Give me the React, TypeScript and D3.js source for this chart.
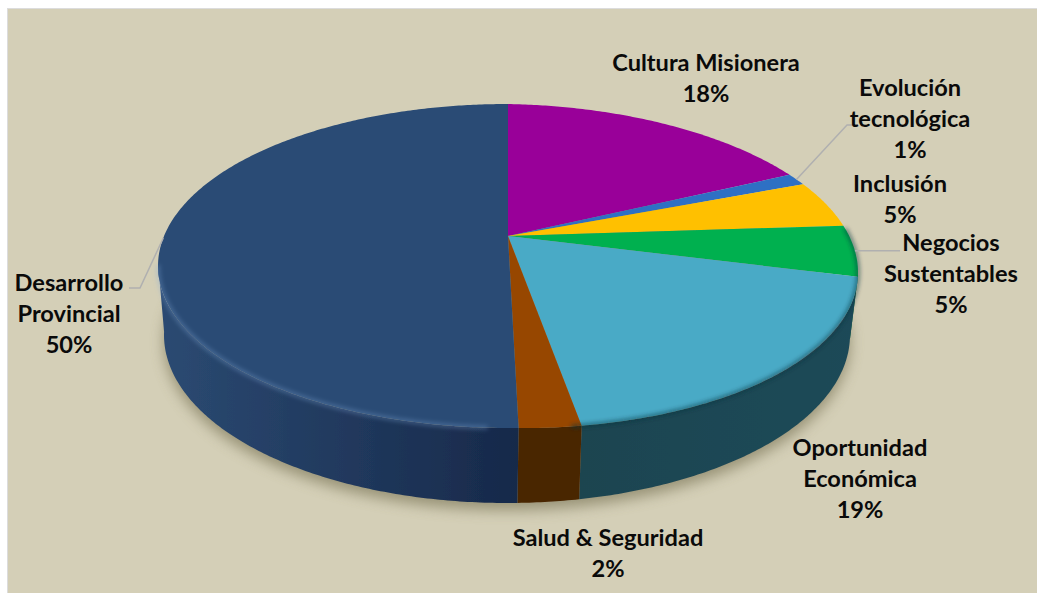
import React from 'react';
import * as d3 from 'd3';

const categories = ['Cultura Misionera', 'Evolución tecnológica', 'Inclusión', 'Negocios Sustentables', 'Oportunidad Económica', 'Salud & Seguridad', 'Desarrollo Provincial'];
const values = [17.4, 1.2, 4.7, 5.1, 18.8, 2.4, 50.4];
const percentLabels = ['18%', '1%', '5%', '5%', '19%', '2%', '50%'];
const faceColors = ['#990099', '#2f6fc4', '#ffc000', '#00b050', '#4aaac6', '#974706', '#2b4b75'];
const sideColors = [['#5c005c', '#5c005c'], ['#1c4376', '#1c4376'], ['#997300', '#997300'], ['#006a30', '#1a5a40'], ['#1e4a58', '#1f4450'], ['#4e2700', '#4a2500'], ['#2b4a72', '#17294a']];

// label placement: centre x, first baseline, lines
const labelLayout = [
  { x: 706, y: 71, lines: ['Cultura Misionera'] },
  { x: 910, y: 96, lines: ['Evolución', 'tecnológica'] },
  { x: 900, y: 192, lines: ['Inclusión'] },
  { x: 951, y: 251, lines: ['Negocios', 'Sustentables'] },
  { x: 860, y: 456, lines: ['Oportunidad', 'Económica'] },
  { x: 608, y: 546, lines: ['Salud & Seguridad'] },
  { x: 69, y: 291, lines: ['Desarrollo', 'Provincial'] },
];

const W = 1037;
const H = 593;
const top = { cx: 508, cy: 266, rx: 350, ry: 162 };
const bottom = { cx: 507, cy: 335, rx: 343, ry: 168 };
const apexShift = 30;
const rightSag = 0.018; // the right half of the disc hangs a little lower
const k = apexShift / top.ry;
const xScale = Math.sqrt(1 - k * k);
const TAU = Math.PI * 2;

const sag = (x: number) => Math.max(0, x - top.cx) * rightSag;

// pie angle -> point on the top face, with the perspective of the tilted disc
const rawProject = (a: number): [number, number] => {
  const Y = -Math.cos(a);
  const w = 1 - k * Y;
  return [top.cx + (top.rx * xScale * Math.sin(a)) / w, top.cy + (top.ry * Y - apexShift) / w];
};
const project = (a: number): [number, number] => {
  const [x, y] = rawProject(a);
  return [x, y + sag(x)];
};
const ellipseAngle = ([x, y]: [number, number]) => {
  const p = Math.atan2((x - top.cx) / top.rx, -(y - top.cy) / top.ry);
  return p < 0 ? p + TAU : p;
};
const lower = (p: number): [number, number] => [bottom.cx + bottom.rx * Math.sin(p), bottom.cy - bottom.ry * Math.cos(p)];
const upper = (p: number): [number, number] => {
  const x = top.cx + top.rx * Math.sin(p);
  return [x, top.cy - top.ry * Math.cos(p) + sag(x)];
};

const line = d3.line();
const arcs = d3.pie<number>().sort(null).startAngle(0).endAngle(TAU)(values);
const sampleAngles = (a0: number, a1: number) => {
  const n = Math.max(2, Math.ceil((a1 - a0) / 0.01));
  return d3.range(n + 1).map((i) => a0 + ((a1 - a0) * i) / n);
};
const apex: [number, number] = [top.cx, top.cy - apexShift];

const facePath = (a0: number, a1: number) => line([apex, ...sampleAngles(a0, a1).map(project)]) + 'Z';
const sidePath = (a0: number, a1: number) => {
  const ps = sampleAngles(a0, a1)
    .map((a) => ellipseAngle(rawProject(a)))
    .filter((p) => p >= Math.PI / 2 - 0.02 && p <= (3 * Math.PI) / 2 + 0.02);
  if (ps.length < 2) return null;
  return line([...ps.map(upper), ...ps.slice().reverse().map(lower)]) + 'Z';
};
const rimPath = (p0: number, p1: number) => line(sampleAngles(p0, p1).map(upper)) || '';
const silhouette = line(sampleAngles(0, TAU).map(lower)) + 'Z';

const fontFamily = 'Lato, "Open Sans", sans-serif';
const lineHeight = 31;

function leader(i: number) {
  const mid = project((arcs[i].startAngle + arcs[i].endAngle) / 2);
  if (i === 1) return line([mid, [847, 125], [858, 125]]);
  if (i === 3) return line([mid, [900, mid[1]]]);
  return line([mid, [140, 288], [129, 288]]);
}

export default function App() {
  return (
    <svg width={W} height={H} style={{ position: 'absolute', left: 0, top: 0, display: 'block' }}>
      <defs>
        <filter id="shadowBlur" x="-10%" y="-10%" width="120%" height="120%">
          <feGaussianBlur stdDeviation="7" />
        </filter>
        <filter id="rimBlur" x="-10%" y="-10%" width="120%" height="120%">
          <feGaussianBlur stdDeviation="2" />
        </filter>
        <filter id="soft" x="-5%" y="-5%" width="110%" height="110%">
          <feGaussianBlur stdDeviation="0.5" />
        </filter>
        {arcs.map((d, i) => (
          <linearGradient key={i} id={`side${i}`} gradientUnits="userSpaceOnUse"
            x1={i === 6 ? 160 : 857} x2={i === 6 ? 518 : 579} y1={0} y2={0}>
            <stop offset="0" stopColor={sideColors[i][0]} />
            <stop offset="1" stopColor={sideColors[i][1]} />
          </linearGradient>
        ))}
      </defs>

      <rect x={7} y={8} width={W - 7} height={H - 8} fill="#dcdcdc" />
      <rect x={8} y={9} width={W - 8} height={H - 9} fill="#d4cfb7" />

      <path d={silhouette} transform="translate(0,7)" fill="#6f6a4c" opacity={0.6} filter="url(#shadowBlur)" />

      <g filter="url(#soft)">
        {arcs.map((d, i) => {
          const p = sidePath(d.startAngle, d.endAngle);
          return p ? <path key={i} d={p} fill={`url(#side${i})`} /> : null;
        })}
        {arcs.map((d, i) => (
          <path key={i} d={facePath(d.startAngle, d.endAngle)} fill={faceColors[i]} />
        ))}
      </g>

      {/* rim shading of the bevelled edge */}
      <path d={rimPath(1.3, 2.96)} fill="none" stroke="#10303c" strokeOpacity={0.6} strokeWidth={3.5} filter="url(#rimBlur)" />
      <path d={rimPath(3.2, 4.72)} fill="none" stroke="#7fa6d8" strokeOpacity={0.35} strokeWidth={4} filter="url(#rimBlur)" />

      {[1, 3, 6].map((i) => (
        <path key={i} d={leader(i) || ''} fill="none" stroke="#b0b0b0" strokeWidth={1.5} />
      ))}

      {labelLayout.map((l, i) => (
        <text key={i} x={l.x} y={l.y} textAnchor="middle" fontFamily={fontFamily} fontWeight={700} fontSize={23.6} fill="#0a0a0a">
          {[...l.lines, percentLabels[i]].map((t, j) => (
            <tspan key={j} x={l.x} y={l.y + j * lineHeight}>{t}</tspan>
          ))}
        </text>
      ))}
      <title>{categories.join(', ')}</title>
    </svg>
  );
}
